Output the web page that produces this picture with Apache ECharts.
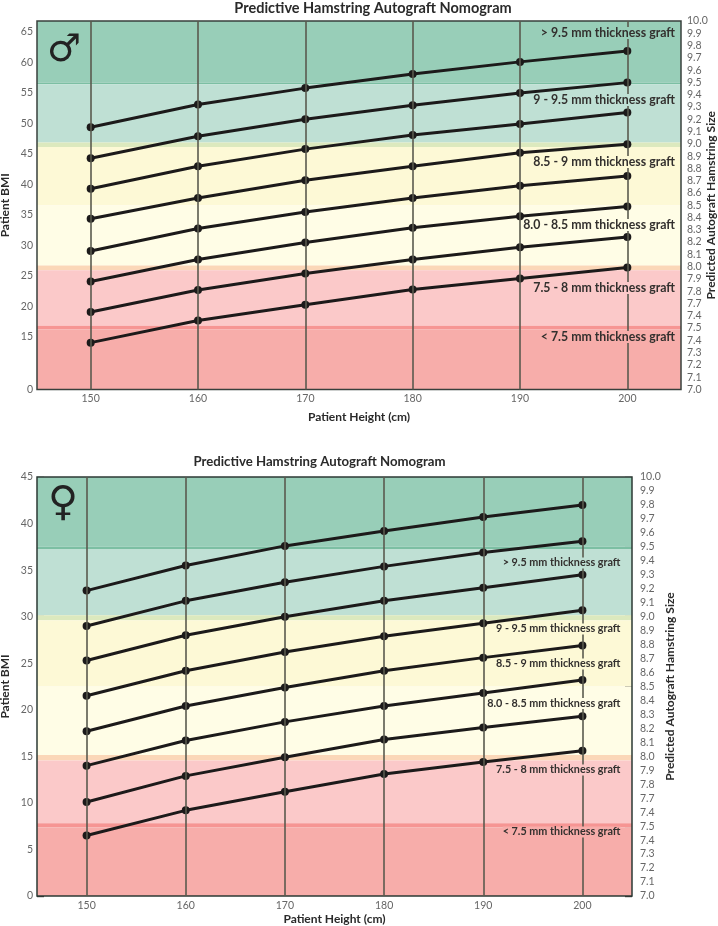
<!DOCTYPE html>
<html>
<head>
<meta charset="utf-8">
<style>
  html, body { margin: 0; padding: 0; background: #fff; }
  #box { width: 718px; height: 926px; }
</style>
<script src="https://cdn.jsdelivr.net/npm/echarts@6/dist/echarts.min.js"></script>
</head>
<body>
<div id="box"></div>
<script>
const heights = [150, 160, 170, 180, 190, 200];

// male panel, BMI at each height, one array per nomogram line
const maleLine1 = [49.4, 53.1, 55.8, 58.1, 60.1, 61.9];
const maleLine2 = [44.3, 47.9, 50.7, 53.0, 55.0, 56.7];
const maleLine3 = [39.3, 43.0, 45.8, 48.1, 49.9, 51.8];
const maleLine4 = [34.4, 37.8, 40.7, 43.0, 45.2, 46.6];
const maleLine5 = [29.1, 32.8, 35.5, 37.8, 39.8, 41.4];
const maleLine6 = [24.1, 27.7, 30.5, 32.9, 34.8, 36.4];
const maleLine7 = [19.1, 22.7, 25.4, 27.7, 29.7, 31.4];
const maleLine8 = [13.4, 17.7, 20.3, 22.8, 24.6, 26.4];

// female panel
const femaleLine1 = [32.8, 35.5, 37.6, 39.2, 40.7, 42.0];
const femaleLine2 = [29.0, 31.7, 33.7, 35.4, 36.9, 38.1];
const femaleLine3 = [25.3, 28.0, 30.0, 31.7, 33.1, 34.5];
const femaleLine4 = [21.5, 24.2, 26.2, 27.9, 29.3, 30.7];
const femaleLine5 = [17.7, 20.4, 22.4, 24.2, 25.6, 26.9];
const femaleLine6 = [14.0, 16.7, 18.7, 20.4, 21.8, 23.2];
const femaleLine7 = [10.1, 12.9, 14.9, 16.8, 18.1, 19.3];
const femaleLine8 = [6.5, 9.2, 11.2, 13.1, 14.4, 15.6];

const maleBmiTicks = [0, 15, 20, 25, 30, 35, 40, 45, 50, 55, 60, 65];

// 7.0 .. 10.0, the picture really prints 7.4 where 7.6 should be
const sizeLabels = ["7.0", "7.1", "7.2", "7.3", "7.4", "7.5", "7.4", "7.7", "7.8", "7.9",
  "8.0", "8.1", "8.2", "8.3", "8.4", "8.5", "8.6", "8.7", "8.8", "8.9",
  "9.0", "9.1", "9.2", "9.3", "9.4", "9.5", "9.6", "9.7", "9.8", "9.9", "10.0"];

// graft size zones on the right axis, thin strips are the zone edges
const bandEdges = [10, 9.5, 9.485, 9.01, 8.975, 8.5, 8.01, 7.97, 7.52, 7.49, 7];
const bandColors = ["#98CEB8", "#7CBFA3", "#BFE0D4", "#DCE9BE", "#FDF9D6", "#FFFDE6", "#FBD7B8", "#FBC9C9", "#F69593", "#F7ADAA"];

const zoneLabels = ["> 9.5 mm thickness graft", "9 - 9.5 mm thickness graft", "8.5 - 9 mm thickness graft",
  "8.0 - 8.5 mm thickness graft", "7.5 - 8 mm thickness graft", "< 7.5 mm thickness graft"];

const titleText = "Predictive Hamstring Autograft Nomogram";
const uiFont = "Lato";

function panelSeries(gridIndex, lines) {
  const xAxisIndex = gridIndex;
  const leftAxis = gridIndex * 2;
  const rightAxis = gridIndex * 2 + 1;
  const areas = bandColors.map((color, i) => [
    { yAxis: bandEdges[i], itemStyle: { color: color, opacity: 1 } },
    { yAxis: bandEdges[i + 1] }
  ]);
  const series = [
    {
      type: "line", xAxisIndex, yAxisIndex: rightAxis, data: [], silent: true, z: 1,
      markArea: { silent: true, animation: false, data: areas }
    },
    {
      type: "line", xAxisIndex, yAxisIndex: rightAxis, data: [], silent: true, z: 2,
      markLine: {
        silent: true, animation: false, symbol: "none", label: { show: false },
        lineStyle: { color: "#5a5a4e", width: 1.6, type: "solid" },
        data: heights.map(h => ({ xAxis: h }))
      }
    }
  ];
  lines.forEach(line => {
    series.push({
      type: "line", xAxisIndex, yAxisIndex: leftAxis, z: 3,
      data: line.map((v, i) => [heights[i], v]),
      symbol: "circle", symbolSize: 8, animation: false,
      lineStyle: { color: "#1c1a1a", width: 3 },
      itemStyle: { color: "#1c1a1a" }
    });
  });
  return series;
}

function xAxisFor(gridIndex, nameGap) {
  return {
    gridIndex, type: "value", min: 145, max: 205,
    name: "Patient Height (cm)", nameLocation: "middle", nameGap, nameMoveOverlap: false,
    nameTextStyle: { fontFamily: uiFont, fontWeight: "bold", fontSize: 12, color: "#2a2a2a" },
    splitLine: { show: false }, axisLine: { show: false }, axisTick: { show: false },
    axisLabel: { customValues: heights, fontFamily: uiFont, fontSize: 10.5, color: "#666", margin: 4 }
  };
}

function sizeAxis(gridIndex, margin, nameGap, ticks) {
  return {
    gridIndex, type: "value", position: "right", min: 7, max: 10, interval: 0.1,
    name: "Predicted Autograft Hamstring Size", nameLocation: "middle", nameRotate: 90, nameGap, nameMoveOverlap: false,
    nameTextStyle: { fontFamily: uiFont, fontWeight: "bold", fontSize: 12, color: "#2a2a2a" },
    splitLine: { show: false }, axisLine: { show: false },
    axisTick: { show: ticks, inside: true, length: 7, lineStyle: { color: "#333", width: 1.4 } },
    axisLabel: {
      fontFamily: uiFont, fontSize: 10.5, color: "#666", margin,
      formatter: v => sizeLabels[Math.round((v - 7) * 10)]
    }
  };
}

function zoneText(text, rightX, y, size, background) {
  return {
    type: "text", z: 20, silent: true, x: rightX, y,
    style: {
      text, font: "bold " + size + "px " + uiFont, fill: "#33302e",
      textAlign: "right", textVerticalAlign: "middle",
      backgroundColor: background
    }
  };
}

function sexSymbol(text, x, y, size) {
  return {
    type: "text", z: 20, silent: true, x, y,
    style: { text, font: "bold " + size + "px 'DejaVu Sans'", fill: "#222", textAlign: "center", textVerticalAlign: "middle" }
  };
}

const myChart = echarts.init(document.getElementById("box"), null, { renderer: "canvas" });
const option = {
  animation: false,
  title: [
    { text: titleText, left: 368, top: -4, textAlign: "center", textStyle: { fontFamily: uiFont, fontWeight: "bold", fontSize: 14.5, color: "#2a2a2a" } },
    { text: titleText, left: 314.5, top: 450, textAlign: "center", textStyle: { fontFamily: uiFont, fontWeight: "bold", fontSize: 13.2, color: "#2a2a2a" } }
  ],
  grid: [
    { left: 37, top: 21, width: 644, height: 368.5, outerBoundsMode: "none", show: true, z: 5, borderColor: "#38403c", borderWidth: 1.5, backgroundColor: "transparent" },
    { left: 37, top: 477, width: 595, height: 419, outerBoundsMode: "none", show: true, z: 5, borderColor: "#2c3a34", borderWidth: 1.5, backgroundColor: "transparent" }
  ],
  xAxis: [xAxisFor(0, 22), xAxisFor(1, 17)],
  yAxis: [
    {
      gridIndex: 0, type: "value", min: 0, max: 66.8,
      breaks: [{ start: 0, end: 15, gap: 8.6 }],
      breakArea: { show: false },
      name: "Patient BMI", nameLocation: "middle", nameRotate: 90, nameGap: 26, nameMoveOverlap: false,
      nameTextStyle: { fontFamily: uiFont, fontWeight: "bold", fontSize: 12, color: "#2a2a2a" },
      splitLine: { show: false }, axisLine: { show: false }, axisTick: { show: false },
      axisLabel: { customValues: maleBmiTicks, fontFamily: uiFont, fontSize: 10.5, color: "#666", margin: 4 }
    },
    sizeAxis(0, 6, 24, false),
    {
      gridIndex: 1, type: "value", min: 0, max: 45, interval: 5,
      name: "Patient BMI", nameLocation: "middle", nameRotate: 90, nameGap: 26, nameMoveOverlap: false,
      nameTextStyle: { fontFamily: uiFont, fontWeight: "bold", fontSize: 12, color: "#2a2a2a" },
      splitLine: { show: false }, axisLine: { show: false },
      axisTick: { show: true, inside: true, length: 7, lineStyle: { color: "#333", width: 1.4 } },
      axisLabel: { fontFamily: uiFont, fontSize: 10.5, color: "#666", margin: 4 }
    },
    sizeAxis(1, 8, 32, true)
  ],
  series: panelSeries(0, [maleLine1, maleLine2, maleLine3, maleLine4, maleLine5, maleLine6, maleLine7, maleLine8])
    .concat(panelSeries(1, [femaleLine1, femaleLine2, femaleLine3, femaleLine4, femaleLine5, femaleLine6, femaleLine7, femaleLine8])),
  graphic: [
    sexSymbol("\u2642", 64, 51.5, 38),
    sexSymbol("\u2640", 63, 504, 41),
    zoneText(zoneLabels[0], 675, 33, 12.3, "#98CEB8"),
    zoneText(zoneLabels[1], 675, 100, 12.3, "#BFE0D4"),
    zoneText(zoneLabels[2], 675, 162, 12.3, "#FDF9D6"),
    zoneText(zoneLabels[3], 675, 225, 12.3, "#FFFDE6"),
    zoneText(zoneLabels[4], 675, 288, 12.3, "#FBC9C9"),
    zoneText(zoneLabels[5], 675, 337, 12.3, "#F7ADAA"),
    zoneText(zoneLabels[0], 620.5, 563, 10.8, "#BFE0D4"),
    zoneText(zoneLabels[1], 620.5, 629, 10.8, "#FDF9D6"),
    zoneText(zoneLabels[2], 620.5, 664, 10.8, "#FDF9D6"),
    zoneText(zoneLabels[3], 620.5, 703.5, 10.8, "#FFFDE6"),
    zoneText(zoneLabels[4], 620.5, 770, 10.8, "#FBC9C9"),
    zoneText(zoneLabels[5], 620.5, 832, 10.8, "#F7ADAA")
  ]
};
myChart.setOption(option);
</script>
</body>
</html>
